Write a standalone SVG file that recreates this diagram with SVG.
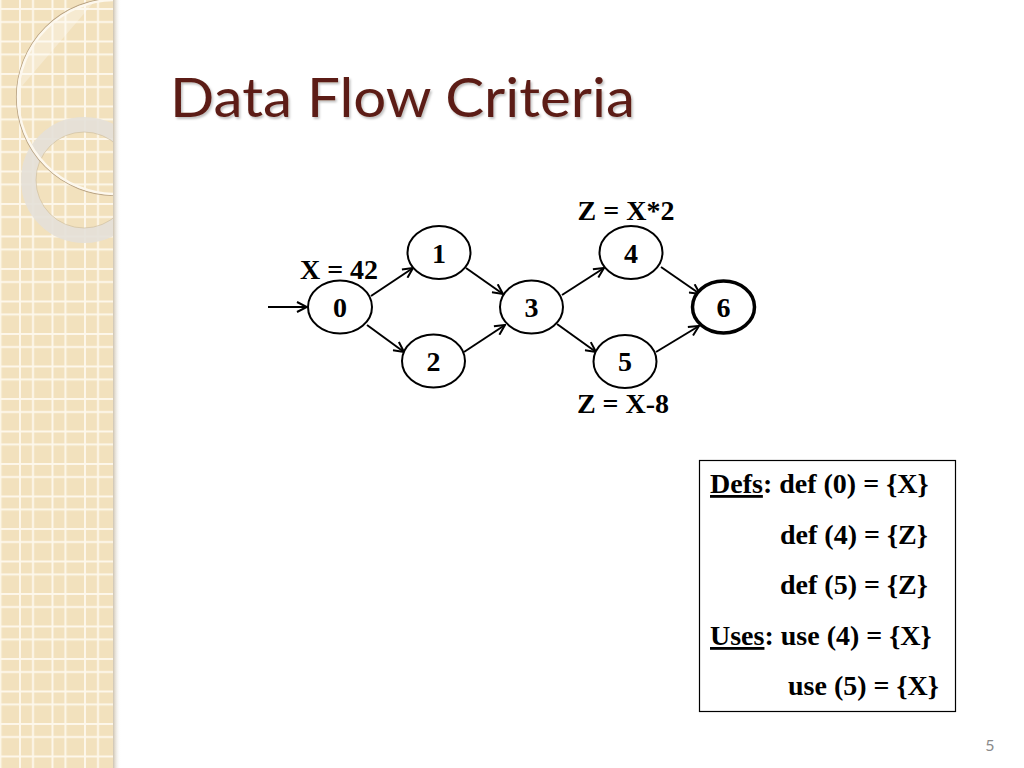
<svg xmlns="http://www.w3.org/2000/svg" width="1024" height="768" viewBox="0 0 1024 768">
<defs>
  <pattern id="grid" x="19" y="8" width="32.5" height="32.5" patternUnits="userSpaceOnUse">
    <rect width="32.5" height="32.5" fill="#f2e1bd"/>
    <rect x="0" y="0" width="2" height="32.5" fill="#fdf7ea"/>
    <rect x="13" y="0" width="2" height="32.5" fill="#fdf7ea"/>
    <rect x="0" y="0" width="32.5" height="2" fill="#fdf7ea"/>
    <rect x="0" y="13" width="32.5" height="2" fill="#fdf7ea"/>
  </pattern>
  <linearGradient id="edge" x1="0" y1="0" x2="1" y2="0">
    <stop offset="0" stop-color="#b8a98e" stop-opacity="0.7"/>
    <stop offset="1" stop-color="#ffffff" stop-opacity="0"/>
  </linearGradient>
  <clipPath id="stripClip"><rect x="0" y="0" width="113" height="768"/></clipPath>
  <clipPath id="bigCircle"><circle cx="115" cy="97" r="97"/></clipPath>
  <filter id="tshadow" x="-5%" y="-20%" width="110%" height="150%">
    <feDropShadow dx="1.5" dy="2" stdDeviation="1.2" flood-color="#000" flood-opacity="0.25"/>
  </filter>
  <marker id="arr" viewBox="0 0 12 12" refX="11" refY="6" markerWidth="12" markerHeight="12" markerUnits="userSpaceOnUse" orient="auto">
    <path d="M1,1 L11,6 L1,11" fill="none" stroke="#000" stroke-width="2"/>
  </marker>
  <style>
    .node ellipse { fill: #fff; stroke: #000; stroke-width: 2; }
    .node text, .lbl { font-family: "Liberation Serif", "Times New Roman", serif; font-weight: bold; font-size: 28px; fill: #000; }
    .node text { text-anchor: middle; }
    .edge { stroke: #000; stroke-width: 2; fill: none; marker-end: url(#arr); }
    .box { font-family: "Liberation Serif", "Times New Roman", serif; font-weight: bold; font-size: 28px; fill: #000; }
  </style>
</defs>

<!-- background -->
<rect width="1024" height="768" fill="#fff"/>

<!-- decorative left strip -->
<g id="strip">
  <rect x="0" y="0" width="113" height="768" fill="url(#grid)"/>
  <rect x="113" y="0" width="8" height="768" fill="url(#edge)"/>
  <g clip-path="url(#stripClip)">
    <g clip-path="url(#bigCircle)">
      <polygon points="10,100 100,-5 -10,-5" fill="#ffffff" opacity="0.3"/>
    </g>
    <circle cx="84" cy="180" r="55.5" fill="none" stroke="#e4e0d8" stroke-width="15" opacity="0.9"/>
    <circle cx="84" cy="180" r="48" fill="none" stroke="#cdbd9f" stroke-width="0.8" opacity="0.8"/>
    <circle cx="115" cy="97" r="98.5" fill="none" stroke="#b9a383" stroke-width="1.2"/>
    <circle cx="115" cy="97" r="97" fill="none" stroke="#fdf8ee" stroke-width="2.5"/>
  </g>
</g>

<!-- title -->
<text id="title" x="170" y="117" font-family="Lato, 'Open Sans', sans-serif" font-size="54" fill="#5c1f15" textLength="465" lengthAdjust="spacingAndGlyphs" filter="url(#tshadow)">Data Flow Criteria</text>

<!-- connectors -->
<g id="connectors">
  <line class="edge" x1="268" y1="307" x2="307" y2="307"/>
  <line class="edge" x1="371" y1="296" x2="413" y2="268"/>
  <line class="edge" x1="367" y1="325" x2="404" y2="352"/>
  <line class="edge" x1="466" y1="268" x2="503" y2="294"/>
  <line class="edge" x1="464" y1="352" x2="505" y2="325"/>
  <line class="edge" x1="562" y1="295" x2="604" y2="268"/>
  <line class="edge" x1="557" y1="324" x2="596" y2="352"/>
  <line class="edge" x1="661" y1="267" x2="700" y2="294"/>
  <line class="edge" x1="656" y1="352" x2="699" y2="326"/>
</g>

<!-- nodes -->
<g id="node0" class="node"><ellipse cx="340" cy="307" rx="32" ry="26.5"/><text x="340" y="317">0</text></g>
<g id="node1" class="node"><ellipse cx="439" cy="252.5" rx="31.5" ry="26.5"/><text x="439" y="263">1</text></g>
<g id="node2" class="node"><ellipse cx="433.5" cy="361" rx="31.5" ry="26.5"/><text x="433.5" y="371">2</text></g>
<g id="node3" class="node"><ellipse cx="531.5" cy="307" rx="31.5" ry="26.5"/><text x="531.5" y="317">3</text></g>
<g id="node4" class="node"><ellipse cx="631" cy="252.5" rx="31.5" ry="26.5"/><text x="631" y="263">4</text></g>
<g id="node5" class="node"><ellipse cx="625" cy="361.5" rx="31.5" ry="26.5"/><text x="625" y="371">5</text></g>
<g id="node6" class="node"><ellipse cx="723.5" cy="307" rx="31" ry="26" style="stroke-width:3.5"/><text x="723.5" y="317">6</text></g>

<!-- labels -->
<text class="lbl" x="339" y="279" text-anchor="middle">X = 42</text>
<text class="lbl" x="626" y="220" text-anchor="middle">Z = X*2</text>
<text class="lbl" x="623" y="413" text-anchor="middle">Z = X-8</text>

<!-- defs/uses box -->
<g id="defuse">
  <rect x="699.5" y="460.5" width="256" height="251" fill="#fff" stroke="#000" stroke-width="1.2"/>
  <text class="box" x="710" y="493"><tspan text-decoration="underline">Defs</tspan>: def (0) = {X}</text>
  <text class="box" x="780" y="544">def (4) = {Z}</text>
  <text class="box" x="780" y="594">def (5) = {Z}</text>
  <text class="box" x="710" y="645"><tspan text-decoration="underline">Uses</tspan>: use (4) = {X}</text>
  <text class="box" x="788" y="695">use (5) = {X}</text>
</g>

<!-- page number -->
<text id="pagenum" x="990" y="751" text-anchor="middle" font-family="Lato, 'Open Sans', sans-serif" font-size="16" fill="#8a8a8a">5</text>
</svg>
